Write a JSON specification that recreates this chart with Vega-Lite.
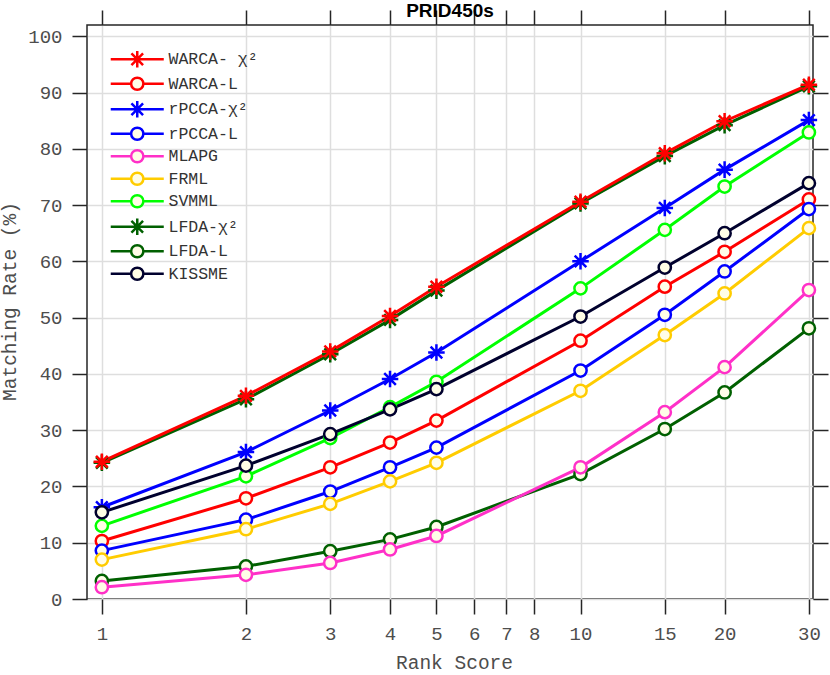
{
  "$schema": "https://vega.github.io/schema/vega-lite/v6.json",
  "width": 726,
  "height": 574,
  "autosize": {"type": "none"},
  "padding": {"left": 87, "top": 25, "right": 17, "bottom": 76},
  "background": "white",
  "title": {"text": "PRID450s", "font": "Liberation Sans", "fontSize": 19, "fontWeight": "bold", "color": "#000000", "anchor": "middle", "baseline": "alphabetic", "offset": -5, "dy": 21.5},
  "config": {"view": {"stroke": "#262626", "strokeWidth": 1.5}},
  "data": {"values": [
    {"method": "LFDA-χ²", "rank": 1, "rate": 24.2}, {"method": "LFDA-χ²", "rank": 2, "rate": 35.5}, {"method": "LFDA-χ²", "rank": 3, "rate": 43.5}, {"method": "LFDA-χ²", "rank": 4, "rate": 49.6}, {"method": "LFDA-χ²", "rank": 5, "rate": 54.8}, {"method": "LFDA-χ²", "rank": 10, "rate": 70.3}, {"method": "LFDA-χ²", "rank": 15, "rate": 78.7}, {"method": "LFDA-χ²", "rank": 20, "rate": 84.2}, {"method": "LFDA-χ²", "rank": 30, "rate": 91.1},
    {"method": "WARCA-L", "rank": 1, "rate": 10.3}, {"method": "WARCA-L", "rank": 2, "rate": 17.9}, {"method": "WARCA-L", "rank": 3, "rate": 23.4}, {"method": "WARCA-L", "rank": 4, "rate": 27.8}, {"method": "WARCA-L", "rank": 5, "rate": 31.7}, {"method": "WARCA-L", "rank": 10, "rate": 45.9}, {"method": "WARCA-L", "rank": 15, "rate": 55.5}, {"method": "WARCA-L", "rank": 20, "rate": 61.7}, {"method": "WARCA-L", "rank": 30, "rate": 71.0},
    {"method": "rPCCA-χ²", "rank": 1, "rate": 16.3}, {"method": "rPCCA-χ²", "rank": 2, "rate": 26.1}, {"method": "rPCCA-χ²", "rank": 3, "rate": 33.5}, {"method": "rPCCA-χ²", "rank": 4, "rate": 39.1}, {"method": "rPCCA-χ²", "rank": 5, "rate": 43.8}, {"method": "rPCCA-χ²", "rank": 10, "rate": 60.0}, {"method": "rPCCA-χ²", "rank": 15, "rate": 69.5}, {"method": "rPCCA-χ²", "rank": 20, "rate": 76.3}, {"method": "rPCCA-χ²", "rank": 30, "rate": 85.1},
    {"method": "rPCCA-L", "rank": 1, "rate": 8.6}, {"method": "rPCCA-L", "rank": 2, "rate": 14.1}, {"method": "rPCCA-L", "rank": 3, "rate": 19.1}, {"method": "rPCCA-L", "rank": 4, "rate": 23.4}, {"method": "rPCCA-L", "rank": 5, "rate": 26.9}, {"method": "rPCCA-L", "rank": 10, "rate": 40.6}, {"method": "rPCCA-L", "rank": 15, "rate": 50.5}, {"method": "rPCCA-L", "rank": 20, "rate": 58.2}, {"method": "rPCCA-L", "rank": 30, "rate": 69.3},
    {"method": "FRML", "rank": 1, "rate": 7.0}, {"method": "FRML", "rank": 2, "rate": 12.4}, {"method": "FRML", "rank": 3, "rate": 16.9}, {"method": "FRML", "rank": 4, "rate": 20.9}, {"method": "FRML", "rank": 5, "rate": 24.2}, {"method": "FRML", "rank": 10, "rate": 37.0}, {"method": "FRML", "rank": 15, "rate": 46.9}, {"method": "FRML", "rank": 20, "rate": 54.3}, {"method": "FRML", "rank": 30, "rate": 65.9},
    {"method": "SVMML", "rank": 1, "rate": 13.0}, {"method": "SVMML", "rank": 2, "rate": 21.8}, {"method": "SVMML", "rank": 3, "rate": 28.6}, {"method": "SVMML", "rank": 4, "rate": 34.1}, {"method": "SVMML", "rank": 5, "rate": 38.6}, {"method": "SVMML", "rank": 10, "rate": 55.2}, {"method": "SVMML", "rank": 15, "rate": 65.6}, {"method": "SVMML", "rank": 20, "rate": 73.3}, {"method": "SVMML", "rank": 30, "rate": 82.9},
    {"method": "LFDA-L", "rank": 1, "rate": 3.2}, {"method": "LFDA-L", "rank": 2, "rate": 5.8}, {"method": "LFDA-L", "rank": 3, "rate": 8.5}, {"method": "LFDA-L", "rank": 4, "rate": 10.6}, {"method": "LFDA-L", "rank": 5, "rate": 12.8}, {"method": "LFDA-L", "rank": 10, "rate": 22.2}, {"method": "LFDA-L", "rank": 15, "rate": 30.2}, {"method": "LFDA-L", "rank": 20, "rate": 36.7}, {"method": "LFDA-L", "rank": 30, "rate": 48.1},
    {"method": "MLAPG", "rank": 1, "rate": 2.1}, {"method": "MLAPG", "rank": 2, "rate": 4.3}, {"method": "MLAPG", "rank": 3, "rate": 6.4}, {"method": "MLAPG", "rank": 4, "rate": 8.8}, {"method": "MLAPG", "rank": 5, "rate": 11.2}, {"method": "MLAPG", "rank": 10, "rate": 23.4}, {"method": "MLAPG", "rank": 15, "rate": 33.2}, {"method": "MLAPG", "rank": 20, "rate": 41.2}, {"method": "MLAPG", "rank": 30, "rate": 54.9},
    {"method": "KISSME", "rank": 1, "rate": 15.4}, {"method": "KISSME", "rank": 2, "rate": 23.7}, {"method": "KISSME", "rank": 3, "rate": 29.3}, {"method": "KISSME", "rank": 4, "rate": 33.7}, {"method": "KISSME", "rank": 5, "rate": 37.3}, {"method": "KISSME", "rank": 10, "rate": 50.2}, {"method": "KISSME", "rank": 15, "rate": 58.9}, {"method": "KISSME", "rank": 20, "rate": 65.0}, {"method": "KISSME", "rank": 30, "rate": 73.9},
    {"method": "WARCA- χ²", "rank": 1, "rate": 24.4}, {"method": "WARCA- χ²", "rank": 2, "rate": 36.1}, {"method": "WARCA- χ²", "rank": 3, "rate": 44.0}, {"method": "WARCA- χ²", "rank": 4, "rate": 50.3}, {"method": "WARCA- χ²", "rank": 5, "rate": 55.5}, {"method": "WARCA- χ²", "rank": 10, "rate": 70.6}, {"method": "WARCA- χ²", "rank": 15, "rate": 79.2}, {"method": "WARCA- χ²", "rank": 20, "rate": 84.9}, {"method": "WARCA- χ²", "rank": 30, "rate": 91.4}
  ]},
  "resolve": {"axis": {"x": "independent", "y": "independent"}},
  "layer": [
    {
      "mark": {"type": "line", "strokeWidth": 3},
      "encoding": {
        "x": {"field": "rank", "type": "quantitative", "scale": {"type": "log", "domain": [0.931, 30.6], "nice": false},
          "axis": {"orient": "bottom", "values": [1, 2, 3, 4, 5, 6, 7, 8, 10, 15, 20, 30], "format": "d", "grid": true, "gridColor": "#dedede", "gridWidth": 1.5, "domain": false, "tickSize": 15, "tickColor": "#262626", "tickWidth": 1.5, "labelFont": "Liberation Mono", "labelFontSize": 19, "labelColor": "#4d4d4d", "labelPadding": 10.5, "labelFlush": false, "labelOverlap": false, "title": "Rank Score", "titleFont": "Liberation Mono", "titleFontSize": 19.5, "titleFontWeight": "normal", "titleColor": "#4d4d4d", "titlePadding": 10, "titleX": 367}},
        "y": {"field": "rate", "type": "quantitative", "scale": {"domain": [0, 102], "nice": false},
          "axis": {"orient": "left", "values": [0, 10, 20, 30, 40, 50, 60, 70, 80, 90, 100], "format": "d", "grid": true, "gridColor": "#dedede", "gridWidth": 1.5, "domain": false, "tickSize": 15, "tickColor": "#262626", "tickWidth": 1.5, "labelFont": "Liberation Mono", "labelFontSize": 19, "labelColor": "#4d4d4d", "labelPadding": 10, "labelFlush": false, "labelOverlap": false, "title": "Matching Rate (%)", "titleFont": "Liberation Mono", "titleFontSize": 19.5, "titleFontWeight": "normal", "titleColor": "#4d4d4d", "titleX": -68, "titleY": 276}},
        "color": {"field": "method", "type": "nominal",
          "scale": {"domain": ["WARCA- χ²", "WARCA-L", "rPCCA-χ²", "rPCCA-L", "MLAPG", "FRML", "SVMML", "LFDA-χ²", "LFDA-L", "KISSME"], "range": ["#ff0000", "#ff0000", "#0000ff", "#0000ff", "#ff30c8", "#ffcc00", "#00ff00", "#006000", "#006000", "#00002e"]},
          "legend": {"orient": "none", "legendX": 42, "legendY": 26, "title": null, "padding": 0, "labelFont": "Liberation Mono", "labelFontSize": 16.5, "labelColor": "#333333", "symbolSize": 150, "symbolStrokeWidth": 2.5, "symbolOpacity": 1, "symbolFillColor": "#fffde7", "rowPadding": -0.5, "labelOffset": 23,
            "encode": {"symbols": {"update": {"shape": {"signal": "indexof(datum.value, 'χ') >= 0 ? 'M-4.33,0L4.33,0M0,-1.35L0,1.35M-0.95,-0.95L0.95,0.95M-0.95,0.95L0.95,-0.95' : 'M-4.33,0L-1,0M1,0L4.33,0M-1,0A1,1,0,1,1,1,0A1,1,0,1,1,-1,0Z'"}, "fill": {"value": "#fffde7"}, "strokeWidth": {"value": 2.5}}}}}}
      }
    },
    {
      "transform": [{"filter": "indexof(datum.method, 'χ') >= 0"}],
      "mark": {"type": "point", "shape": "M0,-1.35L0,1.35M-1.35,0L1.35,0M-0.95,-0.95L0.95,0.95M-0.95,0.95L0.95,-0.95", "filled": false, "fill": "#fffde7", "fillOpacity": 1, "opacity": 1, "strokeWidth": 2.5, "size": 150},
      "encoding": {
        "x": {"field": "rank", "type": "quantitative", "scale": {"type": "log", "domain": [0.931, 30.6], "nice": false},
          "axis": {"orient": "top", "values": [1, 2, 3, 4, 5, 6, 7, 8, 10, 15, 20, 30], "labels": false, "grid": false, "domain": false, "tickSize": 15, "tickColor": "#262626", "tickWidth": 1.5, "title": null}},
        "y": {"field": "rate", "type": "quantitative", "scale": {"domain": [0, 102], "nice": false},
          "axis": {"orient": "right", "values": [0, 10, 20, 30, 40, 50, 60, 70, 80, 90, 100], "labels": false, "grid": false, "domain": false, "tickSize": 15, "tickColor": "#262626", "tickWidth": 1.5, "title": null}},
        "color": {"field": "method", "type": "nominal"}
      }
    },
    {
      "transform": [{"filter": "indexof(datum.method, 'χ') < 0"}],
      "mark": {"type": "point", "shape": "circle", "filled": false, "fill": "#fffde7", "fillOpacity": 1, "opacity": 1, "strokeWidth": 2.5, "size": 150},
      "encoding": {
        "x": {"field": "rank", "type": "quantitative", "scale": {"type": "log", "domain": [0.931, 30.6], "nice": false}, "axis": null},
        "y": {"field": "rate", "type": "quantitative", "scale": {"domain": [0, 102], "nice": false}, "axis": null},
        "color": {"field": "method", "type": "nominal"}
      }
    }
  ]
}
